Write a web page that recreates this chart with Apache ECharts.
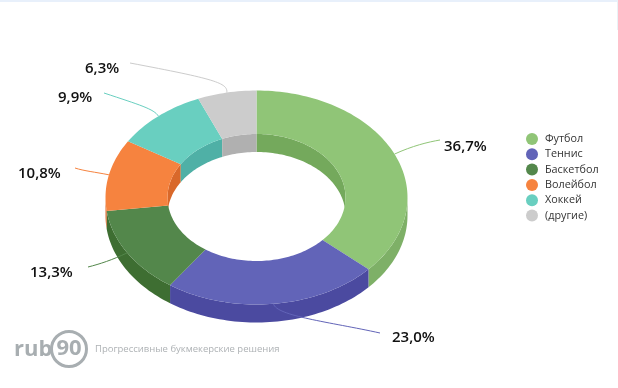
<!DOCTYPE html>
<html><head><meta charset="utf-8">
<style>html,body{margin:0;padding:0;background:#fff}#c{width:618px;height:388px}</style>
<script src="https://cdn.jsdelivr.net/npm/echarts@6/dist/echarts.min.js"></script>
</head><body><div id="c"></div>
<script>
const categories = ['Футбол','Теннис','Баскетбол','Волейбол','Хоккей','(другие)'];
const values = [36.7,23.0,13.3,10.8,9.9,6.3];
const topColors = ['#90C577','#6264B8','#53874B','#F6833F','#69CFC0','#CCCCCC'];
const outerWallColors = ['#7EB067','#4B4AA0','#3E6E32','#D9682A','#4FB0A6','#B0B0B0'];
const innerWallColors = ['#74A95C','#4B4AA0','#3E6E32','#D9682A','#4FB0A6','#B0B0B0'];
const labelPos = [[444,147],[392,338],[30,273],[18,174],[58,98],[85,69]];
const leaderEnd = [[440,140],[380,333],[88,267],[75,168],[104,93],[130,63]];
const leaderCp = [[412,146,428,142],[276,316,330,322],[112,260,100,264],[95,172,84,171],[154,109,140,105],[228,83,215,79]];

const cx=256.5, cy=197.5, rx=151, ry=107, irx=89, iry=63.5, depth=18;
const total = values.reduce((a,b)=>a+b,0);
const starts=[]; let acc=0;
values.forEach(v=>{starts.push(acc/total*360); acc+=v;});
const rad=d=>d*Math.PI/180;
const pt=(a,Rx,Ry,dy)=>[cx+Rx*Math.sin(rad(a)), cy-Ry*Math.cos(rad(a))+dy];
function arc(a0,a1,Rx,Ry,dy){
  const n=Math.max(2,Math.ceil(Math.abs(a1-a0)/1.5)), out=[];
  for(let i=0;i<=n;i++) out.push(pt(a0+(a1-a0)*i/n,Rx,Ry,dy));
  return out;
}
function band(a0,a1,Rx,Ry,color){
  return {type:'polygon',shape:{points:arc(a0,a1,Rx,Ry,0).concat(arc(a1,a0,Rx,Ry,depth))},style:{fill:color}};
}
function clip(a0,a1,lo,hi){const s=Math.max(a0,lo),e=Math.min(a1,hi);return e>s?[s,e]:null;}

function renderWalls(params){
  const i=params.dataIndex,a0=starts[i],a1=a0+values[i]/total*360,ch=[];
  [[0,90],[270,360]].forEach(r=>{const c=clip(a0,a1,r[0],r[1]);if(c)ch.push(band(c[0],c[1],irx,iry,innerWallColors[i]));});
  const c=clip(a0,a1,90,270); if(c)ch.push(band(c[0],c[1],rx,ry,outerWallColors[i]));
  return {type:'group',children:ch};
}
function renderTop(i){
  return function(){
    const a0=starts[i],a1=a0+values[i]/total*360;
    return {type:'polygon',shape:{points:arc(a0,a1,rx,ry,0).concat(arc(a1,a0,irx,iry,0))},style:{fill:topColors[i]}};
  };
}
function renderLeader(params){
  const i=params.dataIndex,mid=starts[i]+values[i]/total*180,p=pt(mid,rx,ry,0),e=leaderEnd[i],c=leaderCp[i];
  return {type:'group',children:[
    {type:'bezierCurve',shape:{x1:p[0],y1:p[1],cpx1:c[0],cpy1:c[1],cpx2:c[2],cpy2:c[3],x2:e[0],y2:e[1]},
     style:{stroke:topColors[i],lineWidth:1,fill:null}},
    {type:'text',x:labelPos[i][0],y:labelPos[i][1],style:{text:values[i].toFixed(1).replace('.',',')+'%',
      fill:'#111',font:'600 15px "Open Sans"',textVerticalAlign:'middle'}}
  ]};
}
const base={type:'custom',coordinateSystem:'none',silent:true,animation:false,clip:false};
const series=[Object.assign({},base,{name:'walls',z:1,data:values,renderItem:renderWalls})];
categories.forEach((n,i)=>series.push(Object.assign({},base,{name:n,z:2,data:[values[i]],itemStyle:{color:topColors[i]},renderItem:renderTop(i)})));
series.push(Object.assign({},base,{name:'leaders',z:3,data:values,renderItem:renderLeader}));

const chart=echarts.init(document.getElementById('c'),null,{renderer:'canvas'});
chart.setOption({
  animation:false,backgroundColor:'#fff',
  legend:{data:categories,orient:'vertical',left:526,top:133,padding:0,itemWidth:12,itemHeight:12,itemGap:3.3,icon:'circle',selectedMode:false,
    textStyle:{fontFamily:'Open Sans',fontSize:10.8,fontWeight:500,color:'#333',padding:[0,0,0,2]}},
  series:series,
  graphic:[
    {type:'rect',shape:{x:0,y:0,width:618,height:2},style:{fill:'#E8F0FB'},silent:true},
    {type:'rect',shape:{x:617,y:0,width:1,height:30},style:{fill:'#EAF2F6'},silent:true},
    {type:'text',x:14,y:350,style:{text:'rub',fill:'#A8AEB1',font:'bold 22px "Open Sans"',textVerticalAlign:'middle'},silent:true},
    {type:'circle',shape:{cx:69,cy:349,r:17.5},style:{fill:null,stroke:'#A8AEB1',lineWidth:3},silent:true},
    {type:'text',x:69,y:349,style:{text:'90',fill:'#A8AEB1',font:'bold 22px "Open Sans"',textAlign:'center',textVerticalAlign:'middle'},silent:true},
    {type:'text',x:95,y:349,style:{text:'Прогрессивные букмекерские решения',fill:'#AEB2B5',font:'9.5px "Open Sans"',textVerticalAlign:'middle'},silent:true}
  ]
});
</script></body></html>
